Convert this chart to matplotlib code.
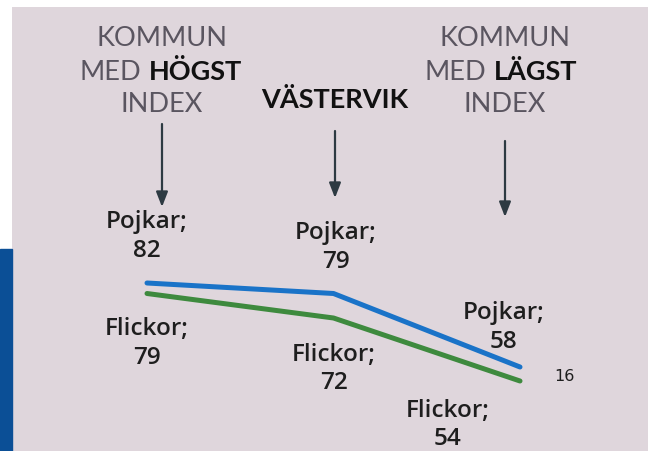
import matplotlib.pyplot as plt
from matplotlib.patches import Rectangle

# Data
places = ["Kommun med högst index", "Västervik", "Kommun med lägst index"]
pojkar = [82, 79, 58]
flickor = [79, 72, 54]
note = "16"

BG = "#dfd6dc"
BLUE = "#1a73c8"
GREEN = "#3e8a3e"
DARK = "#2d3a42"
TXT = "#1e1e1e"
HEAD = "#5a5560"

W, H = 648, 452
fig = plt.figure(figsize=(W / 100, H / 100), dpi=100)
fig.patch.set_facecolor("white")

def fx(px):
    return px / W

def fy(py):
    return 1 - py / H

# blue strip at the left edge
fig.patches.append(Rectangle((0, 0), fx(12), fy(250),
                             transform=fig.transFigure, color="#0b4f96", zorder=0))

ax = fig.add_axes([fx(12), 0, fx(636), fy(8)])
ax.set_xlim(-0.7239, 2.6863)
ax.set_ylim(34, 160.857)
ax.axis("off")
ax.add_patch(Rectangle((0, 0), 1, 1, transform=ax.transAxes, color=BG, zorder=0))

x = list(range(len(places)))
ax.plot(x, pojkar, color=BLUE, lw=3.6, solid_capstyle="round", zorder=3)
ax.plot(x, flickor, color=GREEN, lw=3.6, solid_capstyle="round", zorder=3)

lab_font = dict(family="Open Sans", weight="semibold", fontsize=17.5, color=TXT,
                ha="center", va="center", linespacing=1.27)
# label offsets (points) from each data point
p_off = [(0, 34), (1.5, 34), (-12, 29)]
f_off = [(0, -35.5), (0, -36), (-52, -31)]
for i in x:
    ax.annotate(f"Pojkar;\n{pojkar[i]}", (i, pojkar[i]), xytext=p_off[i],
                textcoords="offset points", **lab_font)
    ax.annotate(f"Flickor;\n{flickor[i]}", (i, flickor[i]), xytext=f_off[i],
                textcoords="offset points", **lab_font)
ax.annotate(note, (2, flickor[2]), xytext=(32, 3.6), textcoords="offset points",
            fontsize=11.5, family="DejaVu Sans", color=TXT, ha="center", va="center")

# headers
hfont = dict(family="Lato", weight="normal", fontsize=19.5, color=HEAD, va="center")
bfont = dict(family="Lato", weight="bold", fontsize=19.5, color="#111111", va="center")
fig.text(fx(162), fy(39), "KOMMUN", ha="center", **hfont)
fig.text(fx(141), fy(72), "MED", ha="right", **hfont)
fig.text(fx(149), fy(72), "HÖGST", ha="left", **bfont)
fig.text(fx(162), fy(105), "INDEX", ha="center", **hfont)

fig.text(fx(505), fy(39), "KOMMUN", ha="center", **hfont)
fig.text(fx(486), fy(72), "MED", ha="right", **hfont)
fig.text(fx(494), fy(72), "LÄGST", ha="left", **bfont)
fig.text(fx(505), fy(105), "INDEX", ha="center", **hfont)

fig.text(fx(335), fy(100), "VÄSTERVIK", ha="center", **bfont)

# arrows
for ax_x, y0, y1 in [(162, 125, 208), (335, 132, 199), (505, 142, 218)]:
    ax.annotate("", xy=(fx(ax_x), fy(y1)), xytext=(fx(ax_x), fy(y0)),
                xycoords="figure fraction", textcoords="figure fraction",
                arrowprops=dict(arrowstyle="-|>,head_length=0.9,head_width=0.35",
                                color=DARK, lw=1.6, shrinkA=0, shrinkB=0))

fig.savefig("out.png", dpi=100, facecolor=fig.get_facecolor())
